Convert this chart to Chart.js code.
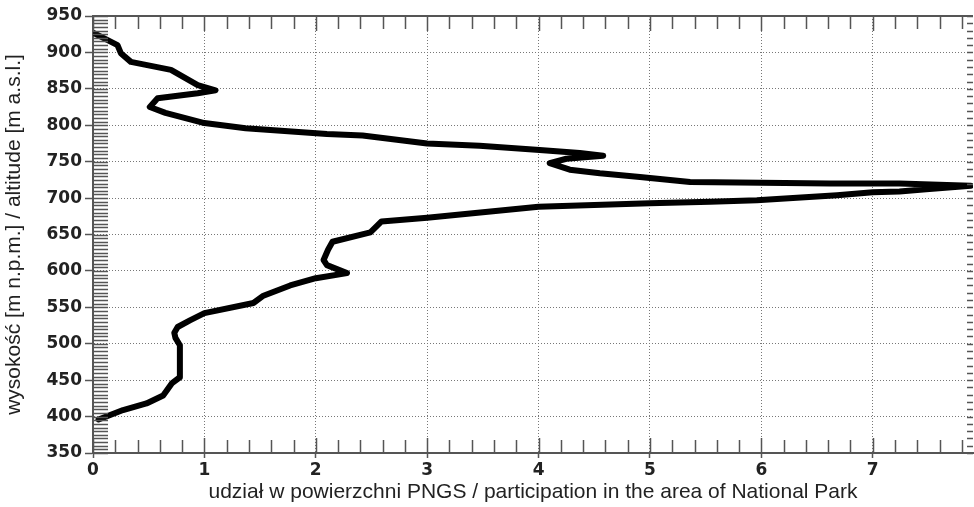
<!DOCTYPE html>
<html>
<head>
<meta charset="utf-8">
<script src="https://cdn.jsdelivr.net/npm/chart.js@4.4.1/dist/chart.umd.min.js"></script>
<style>
  html, body { margin: 0; padding: 0; background: #fff; }
  #wrap { width: 974px; height: 507px; }
</style>
</head>
<body>
<div id="wrap"><canvas id="myChart" width="974" height="507"></canvas></div>
<script>
// profile, top of the curve first
const altitude = [927, 910, 899, 887, 876, 855, 848, 844, 837, 825,
  817, 803, 796, 788, 786, 775, 772, 766, 762, 758,
  754, 748, 739, 734, 729, 722, 721, 720, 720, 717,
  712, 709, 708, 704, 697, 695, 693, 688, 673, 668,
  653, 640, 629, 615, 608, 597, 590, 580, 566, 556,
  542, 532, 523, 515, 508, 498, 454, 446, 429, 418, 409, 396];
const share = [0.0, 0.22, 0.25, 0.34, 0.7, 0.94, 1.1, 0.94, 0.58, 0.51,
  0.65, 1.0, 1.37, 2.1, 2.42, 3.0, 3.47, 4.01, 4.37, 4.58,
  4.25, 4.1, 4.28, 4.55, 4.91, 5.36, 6.0, 6.62, 7.24, 7.88,
  7.48, 7.24, 7.0, 6.68, 5.96, 5.54, 5.0, 4.0, 3.0, 2.59,
  2.49, 2.15, 2.11, 2.07, 2.1, 2.28, 2.0, 1.77, 1.53, 1.44,
  1.0, 0.87, 0.76, 0.73, 0.74, 0.78, 0.78, 0.71, 0.63, 0.48, 0.27, 0.05];

const xTicks = [0, 1, 2, 3, 4, 5, 6, 7];
const yTicks = [350, 400, 450, 500, 550, 600, 650, 700, 750, 800, 850, 900, 950];

const xTitle = "udział w powierzchni PNGS / participation in the area of National Park";
const yTitle = "wysokość [m n.p.m.] / altitude [m a.s.l.]";

const axisColor = "#555";
const tickFont = { family: "DejaVu Sans", size: 17, weight: "bold" };
const titleFont = { family: "Liberation Sans", size: 21 };

const points = share.map((v, i) => ({ x: v, y: altitude[i] }));

// minor ticks on all four sides + top frame line
const frameTicks = {
  id: "frameTicks",
  afterDraw(chart) {
    const ctx = chart.ctx;
    const a = chart.chartArea;
    const xs = chart.scales.x;
    const ys = chart.scales.y;
    ctx.save();
    ctx.strokeStyle = axisColor;
    ctx.lineWidth = 1.5;
    ctx.beginPath();
    for (let m = 350; m <= 950; m += 5) {
      const y = Math.round(ys.getPixelForValue(m)) + 0.5;
      ctx.moveTo(a.left, y);
      ctx.lineTo(a.left + 15, y);
      if (m % 10 === 0) {
        ctx.moveTo(a.right, y);
        ctx.lineTo(a.right - 6, y);
      }
    }
    for (let k = 0; k <= 39; k++) {
      const v = k * 0.2;
      const x = Math.round(xs.getPixelForValue(v)) + 0.5;
      const len = k % 5 === 0 ? 15 : 13;
      ctx.moveTo(x, a.bottom);
      ctx.lineTo(x, a.bottom - len);
      ctx.moveTo(x, a.top);
      ctx.lineTo(x, a.top + len);
    }
    ctx.stroke();
    ctx.lineWidth = 2;
    ctx.beginPath();
    ctx.moveTo(a.left, a.top);
    ctx.lineTo(a.right, a.top);
    ctx.stroke();
    ctx.restore();
  },
};

const ctx = document.getElementById("myChart").getContext("2d");

new Chart(ctx, {
  type: "line",
  data: {
    datasets: [
      {
        data: points,
        borderColor: "#000",
        borderWidth: 6,
        pointRadius: 0,
        tension: 0,
        fill: false,
        borderJoinStyle: "round",
        borderCapStyle: "round",
      },
    ],
  },
  options: {
    responsive: false,
    animation: false,
    layout: { padding: { left: 0, top: 16, right: 1, bottom: 0 } },
    plugins: {
      legend: { display: false },
      tooltip: { enabled: false },
    },
    scales: {
      x: {
        type: "linear",
        min: 0,
        max: 7.9,
        afterBuildTicks: (scale) => {
          scale.ticks = xTicks.map((v) => ({ value: v }));
        },
        afterFit: (scale) => {
          scale.height = 54;
        },
        ticks: {
          font: tickFont,
          color: "#222",
          padding: 2,
          maxRotation: 0,
        },
        grid: {
          color: "#777",
          lineWidth: 1,
          tickLength: 5,
          tickColor: axisColor,
          tickWidth: 1.5,
          tickBorderDash: [],
        },
        border: { display: true, color: axisColor, width: 2, dash: [1, 2] },
        title: {
          display: true,
          text: xTitle,
          font: titleFont,
          color: "#222",
          padding: { top: 0, bottom: 2 },
        },
      },
      y: {
        type: "linear",
        min: 350,
        max: 950,
        afterBuildTicks: (scale) => {
          scale.ticks = yTicks.map((v) => ({ value: v }));
        },
        afterFit: (scale) => {
          scale.width = 93;
        },
        ticks: {
          font: tickFont,
          color: "#222",
          padding: 3,
        },
        grid: {
          color: "#777",
          lineWidth: 1,
          tickLength: 8,
          tickColor: axisColor,
          tickWidth: 1.5,
          tickBorderDash: [],
        },
        border: { display: true, color: axisColor, width: 2, dash: [1, 2] },
        title: {
          display: true,
          text: yTitle,
          font: titleFont,
          color: "#222",
          padding: { top: 2, bottom: 0 },
        },
      },
    },
  },
  plugins: [frameTicks],
});
</script>
</body>
</html>
